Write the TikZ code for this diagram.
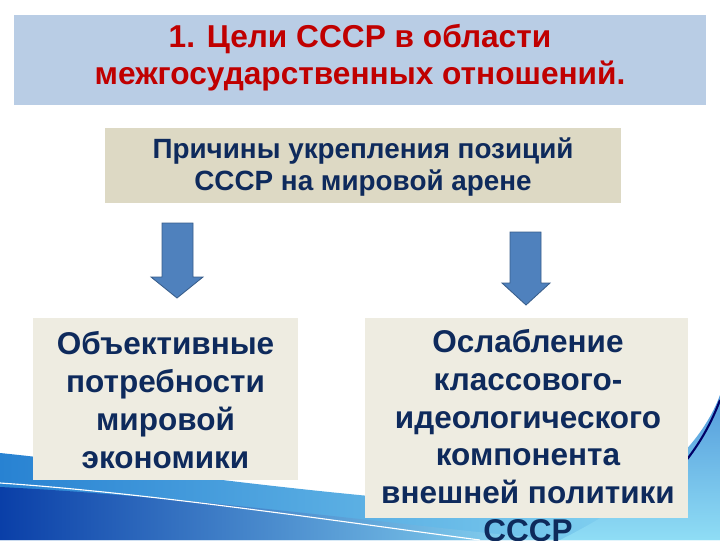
\documentclass[tikz,border=0pt]{standalone}
\usepackage{fontspec}
\setmainfont{Liberation Sans}
\usetikzlibrary{positioning}

\definecolor{titlefill}{HTML}{B9CDE5}
\definecolor{titlered}{HTML}{C00000}
\definecolor{headfill}{HTML}{DDD9C4}
\definecolor{boxfill}{HTML}{EEECE1}
\definecolor{navy}{HTML}{0E2A5C}
\definecolor{arrowblue}{HTML}{4F81BD}
\definecolor{arrowedge}{HTML}{385D8A}
\definecolor{wavemid}{HTML}{2882D2}
\definecolor{wavedark}{HTML}{0A3FA8}
\definecolor{wavelight}{HTML}{8FDDF5}

\tikzset{
    panel/.style={draw=none, inner sep=0pt},
    bigtext/.style={text=navy, font=\bfseries\fontsize{22.4}{26.9}\selectfont, align=center},
    blockarrow/.style={fill=arrowblue, draw=arrowedge, line width=0.6pt, line join=miter}
}

\begin{document}
\begin{tikzpicture}[x=0.025cm, y=-0.025cm]
        \useasboundingbox (0, 0) rectangle (720, 540);
        \clip (0, 0) rectangle (720, 540);

        % background swoosh
        \shade[left color=wavemid, right color=wavelight] (0, 453) .. controls (150, 468) and (400, 512) .. (720, 515) -- (720, 540) -- (0, 540) -- cycle;
        \shade[left color=wavedark, right color=wavelight] (0, 487) .. controls (200, 497) and (420, 528) .. (560, 540) -- (0, 540) -- cycle;
        \draw[white, line width=0.8pt] (0, 483) .. controls (150, 493) and (350, 523) .. (480, 540);
        \shade[top color=wavemid!80, bottom color=wavelight] (560, 540) .. controls (640, 500) and (700, 450) .. (720, 395) -- (720, 540) -- cycle;
        \draw[blue!40!black, line width=1.5pt] (640, 505) .. controls (680, 475) and (705, 440) .. (720, 400);

        % title
        \node[panel, fill=titlefill, minimum width=17.3cm, minimum height=2.25cm] (title) at (360, 60) {};
        \node[text=titlered, font=\bfseries\fontsize{22.5}{26.2}\selectfont, align=center] (titletext) at (360, 58) {1. Цели СССР в области\\межгосударственных отношений.};

        % header box
        \node[panel, fill=headfill, minimum width=12.9cm, minimum height=1.875cm] (head) at (363, 165.5) {};
        \node[text=navy, font=\bfseries\fontsize{19.8}{23.4}\selectfont, align=center] (headtext) at (363, 167) {Причины укрепления позиций\\СССР на мировой арене};

        % arrows
        \draw[blockarrow] (162, 223) -- (193, 223) -- (193, 277) -- (203, 277) -- (177, 298) -- (151, 277) -- (162, 277) -- cycle;
        \draw[blockarrow] (510, 232) -- (541, 232) -- (541, 283) -- (550, 283) -- (526, 305) -- (502, 283) -- (510, 283) -- cycle;

        % lower boxes
        \node[panel, fill=boxfill, minimum width=6.625cm, minimum height=4.05cm] (left) at (165.5, 399) {};
        \node[bigtext] (lefttext) at (165.5, 400) {Объективные\\потребности\\мировой\\экономики};

        \node[panel, fill=boxfill, minimum width=8.075cm, minimum height=5cm] (right) at (526.5, 418) {};
        \node[bigtext, anchor=north, inner sep=0pt] (righttext) at (528, 329) {Ослабление\\классового-\\идеологического\\компонента\\внешней политики\\СССР};
    \end{tikzpicture}
\end{document}
